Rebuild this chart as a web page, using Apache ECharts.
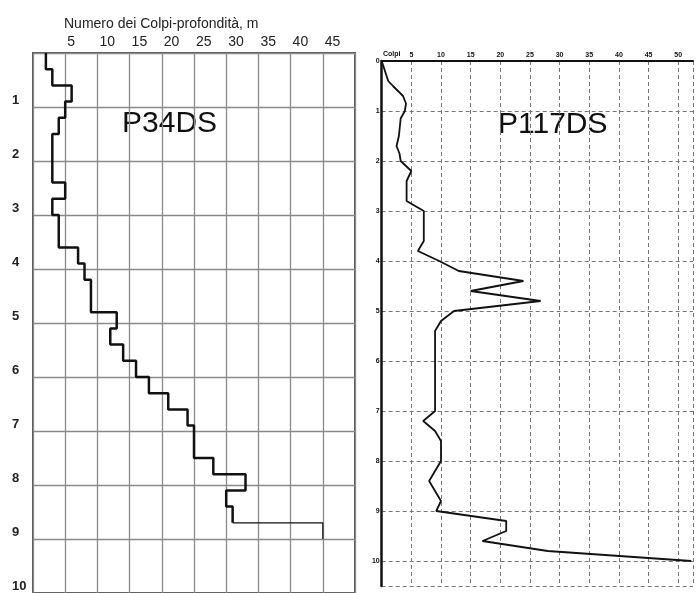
<!DOCTYPE html>
<html>
<head>
<meta charset="utf-8">
<script src="https://cdn.jsdelivr.net/npm/echarts@6/dist/echarts.min.js"></script>
<style>
  html, body { margin: 0; padding: 0; background: #fff; }
  #chart { width: 696px; height: 593px; }
</style>
</head>
<body>
<div id="chart"></div>
<script>
// P34DS: depth boundaries (m) and blow counts per 0.3 m step
var p34Depths = [0, 0.3, 0.6, 0.9, 1.2, 1.5, 1.8, 2.1, 2.4, 2.7, 3.0, 3.3, 3.6, 3.9, 4.2, 4.5,
  4.8, 5.1, 5.4, 5.7, 6.0, 6.3, 6.6, 6.9, 7.2, 7.5, 7.8, 8.1, 8.4, 8.7, 9.0];
var p34Colpi = [2, 3, 6, 5, 4, 3, 3, 3, 5, 3, 4, 4, 7, 8, 9, 9,
  13, 12, 14, 16, 18, 21, 24, 25, 25, 28, 33, 30, 31, 45];

// P117DS: profile points (depth m, blow count)
var p117Depth = [0, 0.4, 0.5, 0.7, 0.85, 1.0, 1.15, 1.5, 1.7, 1.85, 2.0, 2.2, 2.4, 2.8, 3.0, 3.6, 3.8,
  4.0, 4.2, 4.4, 4.6, 4.8, 5.0, 5.2, 5.4, 7.0, 7.2, 7.4, 7.6, 8.0, 8.4, 8.8, 9.0, 9.2, 9.4, 9.6, 9.8, 10.0];
var p117Colpi = [0, 1.1, 1.9, 3.6, 4.1, 3.9, 3.2, 2.9, 2.5, 3.0, 3.2, 5.0, 4.2, 4.2, 7.1, 7.1, 6.1,
  9.7, 13, 23.9, 15, 26.8, 12.2, 10, 9, 9, 7, 9, 10, 10, 8, 10, 9.2, 21, 21, 17, 28, 52.2];

var leftTicks = [5, 10, 15, 20, 25, 30, 35, 40, 45];

// staircase points for the P34DS profile
var stairs = [];
for (var i = 0; i < p34Colpi.length - 1; i++) {
  stairs.push([p34Colpi[i], p34Depths[i]]);
  stairs.push([p34Colpi[i], p34Depths[i + 1]]);
}
var n = p34Colpi.length;
var lastStep = [
  [p34Colpi[n - 2], p34Depths[n - 1]],
  [p34Colpi[n - 1], p34Depths[n - 1]],
  [p34Colpi[n - 1], p34Depths[n]]
];
var p117Points = p117Depth.map(function (d, k) { return [p117Colpi[k], d]; });

var chart = echarts.init(document.getElementById("chart"));
chart.setOption({
  animation: false,
  backgroundColor: "#fff",
  title: {
    text: "Numero dei Colpi-profondità, m",
    left: 59,
    top: 12,
    textStyle: { fontFamily: "Liberation Sans", fontSize: 14, fontWeight: "normal", color: "#222" }
  },
  graphic: [
    { type: "text", left: 122, top: 109, style: { text: "P34DS", font: "30px 'Liberation Sans'", fill: "#111" } },
    { type: "text", left: 498, top: 110, style: { text: "P117DS", font: "30px 'Liberation Sans'", fill: "#111" } },
    { type: "text", left: 383, top: 51, style: { text: "Colpi", font: "bold 7px 'Liberation Sans'", fill: "#111" } }
  ],
  grid: [
    { left: 33, top: 53, width: 322, height: 540, show: true, borderColor: "#555", borderWidth: 2 },
    { left: 381.7, top: 61, width: 315, height: 525 }
  ],
  xAxis: [
    {
      gridIndex: 0, type: "value", position: "top", min: 0, max: 50, interval: 5,
      axisLine: { show: false }, axisTick: { show: false },
      axisLabel: {
        showMinLabel: false, showMaxLabel: false, margin: 4, align: "left", padding: [0, 0, 0, 2],
        fontFamily: "Liberation Sans", fontSize: 14, color: "#222",
        formatter: function (v) { return leftTicks.indexOf(v) >= 0 ? v : ""; }
      },
      splitLine: { show: true, lineStyle: { color: "#8a8a8a", width: 1.3 } }
    },
    {
      gridIndex: 1, type: "value", position: "top", min: 0, max: 52.5, interval: 5,
      axisLine: { show: true, onZero: false, lineStyle: { color: "#111", width: 2 } },
      axisTick: { show: false },
      axisLabel: {
        margin: 2, fontFamily: "Liberation Sans", fontSize: 7, fontWeight: "bold", color: "#111",
        formatter: function (v) { return (v > 0 && v % 5 === 0) ? v : ""; }
      },
      splitLine: { show: true, lineStyle: { color: "#777", width: 1, type: [4, 3] } }
    }
  ],
  yAxis: [
    {
      gridIndex: 0, type: "value", inverse: true, min: 0, max: 10, interval: 1,
      axisLine: { show: false }, axisTick: { show: false },
      axisLabel: {
        showMinLabel: false, margin: 21, align: "left", verticalAlign: "bottom",
        fontFamily: "Liberation Sans", fontSize: 13, fontWeight: "bold", color: "#222"
      },
      splitLine: { show: true, lineStyle: { color: "#8a8a8a", width: 1.3 } }
    },
    {
      gridIndex: 1, type: "value", inverse: true, min: 0, max: 10.5, interval: 1,
      axisLine: { show: true, onZero: false, lineStyle: { color: "#111", width: 2.5 } },
      axisTick: { show: false },
      axisLabel: {
        showMaxLabel: false, margin: 2, fontFamily: "Liberation Sans", fontSize: 7,
        fontWeight: "bold", color: "#111"
      },
      splitLine: { show: true, lineStyle: { color: "#777", width: 1, type: [4, 3] } }
    }
  ],
  series: [
    {
      name: "P34DS", type: "line", xAxisIndex: 0, yAxisIndex: 0, data: stairs,
      showSymbol: false, lineStyle: { color: "#111", width: 2.5 }
    },
    {
      name: "P34DS fondo", type: "line", xAxisIndex: 0, yAxisIndex: 0, data: lastStep,
      showSymbol: false, lineStyle: { color: "#111", width: 1.2 }
    },
    {
      name: "P117DS", type: "line", xAxisIndex: 1, yAxisIndex: 1, data: p117Points,
      showSymbol: false, clip: true, lineStyle: { color: "#111", width: 1.8 }
    }
  ]
});
</script>
</body>
</html>
